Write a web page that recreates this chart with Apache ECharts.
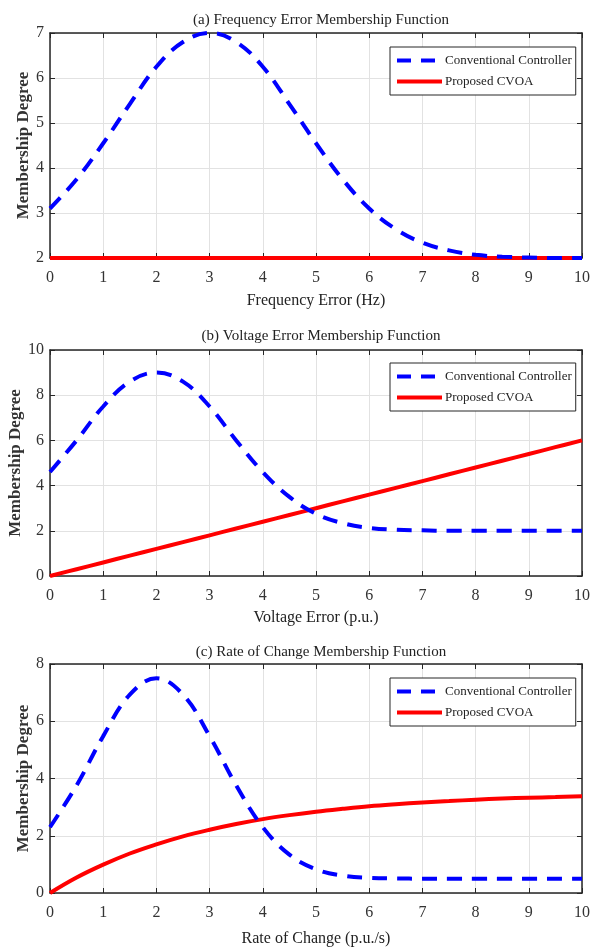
<!DOCTYPE html>
<html>
<head>
<meta charset="utf-8">
<script src="https://cdn.jsdelivr.net/npm/echarts@6/dist/echarts.min.js"></script>
<style>
  html, body { margin: 0; padding: 0; background: #fff; }
  #chart { width: 595px; height: 948px; }
</style>
</head>
<body>
<div id="chart"></div>
<script>
// x samples shared by all three panels
const xs = [0, 0.5, 1, 1.5, 2, 2.5, 3, 3.5, 4, 4.5, 5, 5.5, 6, 6.5, 7, 7.5, 8, 8.5, 9, 9.5, 10];

// (a) frequency error
const convA = [3.1, 3.75, 4.55, 5.42, 6.25, 6.8, 7.0, 6.8, 6.25, 5.42, 4.55, 3.75, 3.1, 2.64, 2.34, 2.17, 2.07, 2.03, 2.01, 2.0, 2.0];
const propA = [2, 2, 2, 2, 2, 2, 2, 2, 2, 2, 2, 2, 2, 2, 2, 2, 2, 2, 2, 2, 2];

// (b) voltage error
const convB = [4.6, 6.0, 7.5, 8.6, 9.0, 8.6, 7.5, 6.0, 4.6, 3.5, 2.75, 2.34, 2.13, 2.05, 2.02, 2.0, 2.0, 2.0, 2.0, 2.0, 2.0];
const propB = [0, 0.3, 0.6, 0.9, 1.2, 1.5, 1.8, 2.1, 2.4, 2.7, 3.0, 3.3, 3.6, 3.9, 4.2, 4.5, 4.8, 5.1, 5.4, 5.7, 6.0];

// (c) rate of change
const convC = [2.3, 3.76, 5.48, 6.93, 7.5, 6.93, 5.48, 3.76, 2.3, 1.34, 0.83, 0.61, 0.53, 0.51, 0.5, 0.5, 0.5, 0.5, 0.5, 0.5, 0.5];
const propC = [0, 0.54, 0.99, 1.38, 1.70, 1.98, 2.21, 2.41, 2.58, 2.72, 2.84, 2.94, 3.03, 3.10, 3.16, 3.21, 3.26, 3.30, 3.33, 3.35, 3.38];

const titles = [
  "(a) Frequency Error Membership Function",
  "(b) Voltage Error Membership Function",
  "(c) Rate of Change Membership Function",
];
const xNames = ["Frequency Error (Hz)", "Voltage Error (p.u.)", "Rate of Change (p.u./s)"];
const yRanges = [[2, 7, 1], [0, 10, 2], [0, 8, 2]];

const convSets = [convA, convB, convC];
const propSets = [propA, propB, propC];

const font = "'Liberation Serif', 'Times New Roman', serif";
const frame = "#262626";
const dash = [15, 10];

// panel geometry
const panels = [
  { top: 33, height: 225, titleTop: 8, legendTop: 47, nameGap: 35, yGap: 18 },
  { top: 350, height: 226, titleTop: 324, legendTop: 363, nameGap: 34, yGap: 26 },
  { top: 664, height: 229, titleTop: 640, legendTop: 678, nameGap: 38, yGap: 18 },
];

const pair = (ys) => xs.map((x, i) => [x, ys[i]]);

const option = {
  animation: false,
  backgroundColor: "#fff",
  title: panels.map((p, i) => ({
    text: titles[i],
    left: 316,
    textAlign: "center",
    top: p.titleTop,
    textStyle: { fontFamily: font, fontSize: 15, fontWeight: "normal", color: "#222" },
  })),
  legend: panels.map((p) => ({
    orient: "vertical",
    left: 390,
    top: p.legendTop,
    itemWidth: 45,
    itemHeight: 12,
    itemGap: 8,
    padding: [7, 4, 7, 5],
    borderColor: frame,
    borderWidth: 1,
    backgroundColor: "#fff",
    itemStyle: { color: "transparent", borderColor: "transparent", borderWidth: 0 },
    data: [
      { name: "Conventional Controller", lineStyle: { color: "#0000ff", width: 4, type: [14, 10] } },
      { name: "Proposed CVOA", lineStyle: { color: "#ff0000", width: 4, type: "solid" } },
    ],
    textStyle: { fontFamily: font, fontSize: 13, color: "#222", padding: [0, 0, 0, -2] },
  })),
  grid: panels.map((p) => ({
    left: 50, width: 532, top: p.top, height: p.height,
    containLabel: false, outerBoundsMode: "none",
  })),
  xAxis: [],
  yAxis: [],
  series: [],
};

panels.forEach((p, i) => {
  const [ymin, ymax, step] = yRanges[i];
  const axisCommon = {
    type: "value",
    gridIndex: i,
    axisLine: { show: true, onZero: false, lineStyle: { color: frame, width: 1.5 } },
    axisTick: { show: true, inside: true, length: 5, lineStyle: { color: frame } },
  };
  option.xAxis.push({
    ...axisCommon,
    min: 0, max: 10, interval: 1,
    name: xNames[i],
    nameLocation: "middle",
    nameGap: p.nameGap,
    nameMoveOverlap: false,
    nameTextStyle: { fontFamily: font, fontSize: 16, color: "#222" },
    axisLabel: { margin: 12, fontFamily: font, fontSize: 16, color: "#333" },
    splitLine: { show: true, lineStyle: { color: "#e2e2e2" } },
  });
  option.xAxis.push({
    ...axisCommon,
    position: "top",
    min: 0, max: 10, interval: 1,
    axisLabel: { show: false },
    splitLine: { show: false },
  });
  option.yAxis.push({
    ...axisCommon,
    min: ymin, max: ymax, interval: step,
    name: "Membership Degree",
    nameLocation: "middle",
    nameGap: p.yGap,
    nameMoveOverlap: false,
    nameTextStyle: { fontFamily: font, fontSize: 17, fontWeight: "bold", color: "#333" },
    axisLabel: { margin: 6, fontFamily: font, fontSize: 16, color: "#333" },
    splitLine: { show: true, lineStyle: { color: "#e2e2e2" } },
  });
  option.yAxis.push({
    ...axisCommon,
    position: "right",
    min: ymin, max: ymax, interval: step,
    axisLabel: { show: false },
    splitLine: { show: false },
  });
  option.series.push({
    name: "Conventional Controller",
    type: "line",
    xAxisIndex: i * 2,
    yAxisIndex: i * 2,
    data: pair(convSets[i]),
    smooth: 0.4,
    symbol: "none",
    lineStyle: { color: "#0000ff", width: 4, type: dash },
    itemStyle: { color: "#0000ff" },
    z: 3,
  });
  option.series.push({
    name: "Proposed CVOA",
    type: "line",
    xAxisIndex: i * 2,
    yAxisIndex: i * 2,
    data: pair(propSets[i]),
    smooth: 0.4,
    symbol: "none",
    lineStyle: { color: "#ff0000", width: 4 },
    itemStyle: { color: "#ff0000" },
    z: 2,
  });
});

const chart = echarts.init(document.getElementById("chart"));
chart.setOption(option);
</script>
</body>
</html>
